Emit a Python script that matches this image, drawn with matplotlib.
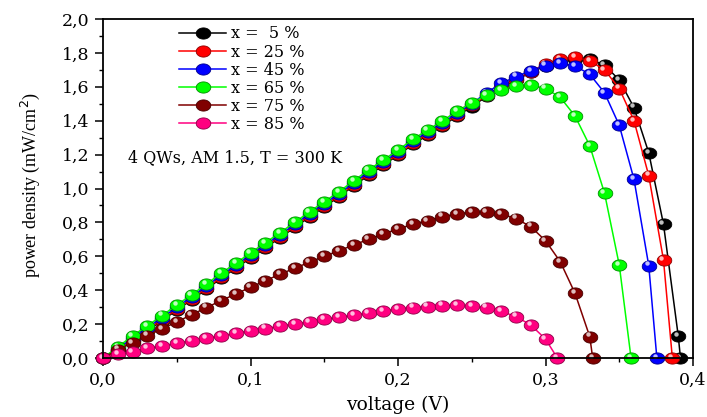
import matplotlib
matplotlib.use("Agg")
import matplotlib.pyplot as plt
import numpy as np
from matplotlib.path import Path
from matplotlib.ticker import MultipleLocator, FuncFormatter
from matplotlib.transforms import offset_copy
from matplotlib.colors import to_rgb

# voltage grid (V), each curve ends with its own open-circuit point
v_grid = [0.00, 0.01, 0.02, 0.03, 0.04, 0.05, 0.06, 0.07, 0.08, 0.09,
          0.10, 0.11, 0.12, 0.13, 0.14, 0.15, 0.16, 0.17, 0.18, 0.19,
          0.20, 0.21, 0.22, 0.23, 0.24, 0.25, 0.26, 0.27, 0.28, 0.29,
          0.30, 0.31, 0.32, 0.33, 0.34, 0.35, 0.36, 0.37, 0.38, 0.39]

labels = ["x =  5 %", "x = 25 %", "x = 45 %", "x = 65 %", "x = 75 %", "x = 85 %"]
colors = ["#000000", "#ff0000", "#0000ff", "#00ff00", "#800000", "#ff0080"]

voc = [0.3915, 0.386, 0.3755, 0.358, 0.332, 0.308]

p_5 = [0, 0.042, 0.10, 0.16, 0.22, 0.283, 0.343, 0.405, 0.47, 0.53,
       0.59, 0.65, 0.71, 0.77, 0.833, 0.892, 0.952, 1.016, 1.078, 1.138,
       1.197, 1.26, 1.315, 1.368, 1.428, 1.483, 1.543, 1.595, 1.64, 1.685,
       1.725, 1.752, 1.765, 1.762, 1.729, 1.64, 1.477, 1.211, 0.789, 0.13, 0.0]
p_25 = [0, 0.045, 0.106, 0.166, 0.226, 0.289, 0.348, 0.411, 0.476, 0.535,
        0.596, 0.656, 0.715, 0.776, 0.839, 0.898, 0.957, 1.022, 1.085, 1.144,
        1.203, 1.266, 1.321, 1.374, 1.435, 1.49, 1.55, 1.60, 1.645, 1.69,
        1.735, 1.765, 1.774, 1.754, 1.70, 1.59, 1.40, 1.076, 0.578, 0.0]
p_45 = [0, 0.055, 0.118, 0.178, 0.238, 0.30, 0.36, 0.423, 0.488, 0.547,
        0.608, 0.668, 0.727, 0.788, 0.851, 0.91, 0.969, 1.034, 1.097, 1.156,
        1.215, 1.278, 1.333, 1.386, 1.445, 1.50, 1.565, 1.62, 1.66, 1.695,
        1.725, 1.738, 1.723, 1.674, 1.565, 1.373, 1.054, 0.545, 0.0]
p_65 = [0, 0.065, 0.13, 0.19, 0.25, 0.313, 0.372, 0.435, 0.50, 0.559,
        0.62, 0.68, 0.739, 0.80, 0.863, 0.922, 0.981, 1.046, 1.109, 1.168,
        1.227, 1.29, 1.345, 1.398, 1.457, 1.506, 1.55, 1.58, 1.605, 1.61,
        1.59, 1.538, 1.428, 1.252, 0.973, 0.549, 0.0]
p_75 = [0, 0.05, 0.09, 0.132, 0.172, 0.213, 0.255, 0.297, 0.338, 0.378,
        0.417, 0.456, 0.494, 0.53, 0.565, 0.60, 0.633, 0.667, 0.70, 0.732,
        0.761, 0.789, 0.81, 0.834, 0.85, 0.86, 0.861, 0.85, 0.822, 0.775,
        0.692, 0.568, 0.382, 0.126, 0.0]
p_85 = [0, 0.022, 0.037, 0.057, 0.071, 0.087, 0.102, 0.116, 0.13, 0.146,
        0.161, 0.173, 0.189, 0.20, 0.214, 0.228, 0.24, 0.252, 0.266, 0.279,
        0.289, 0.297, 0.303, 0.309, 0.311, 0.307, 0.297, 0.275, 0.244, 0.195,
        0.112, 0.0]

powers = [p_5, p_25, p_45, p_65, p_75, p_85]

# slightly flattened ball marker (the original is stretched sideways)
t = np.linspace(0, 2 * np.pi, 41)
ball = Path(np.column_stack([1.3 * np.cos(t), np.sin(t)]), closed=True)

fig = plt.figure(figsize=(7.07, 4.17), dpi=100)
ax = fig.add_axes([0.1457, 0.1415, 0.8345, 0.8129])
shine = offset_copy(ax.transData, fig=fig, x=-2.2, y=2.2, units="dots")

for p, vc, col, lab in zip(powers, voc, colors, labels):
    v = v_grid[:len(p) - 1] + [vc]
    edge = tuple(c * 0.55 for c in to_rgb(col))
    ax.plot(v, p, "-", color=col, lw=1.1, marker=ball, ms=10.5,
            mfc=col, mec=edge, mew=0.6, label=lab, clip_on=False)
    ax.plot(v, p, ls="none", marker="o", ms=3.2, mfc="white", mec="none",
            alpha=0.75, transform=shine, clip_on=False)

ax.set_xlim(0, 0.4)
ax.set_ylim(0, 2.0)
ax.xaxis.set_major_locator(MultipleLocator(0.1))
ax.xaxis.set_minor_locator(MultipleLocator(0.05))
ax.yaxis.set_major_locator(MultipleLocator(0.2))
ax.yaxis.set_minor_locator(MultipleLocator(0.1))
comma = FuncFormatter(lambda val, pos: "{:.1f}".format(val).replace(".", ","))
ax.xaxis.set_major_formatter(comma)
ax.yaxis.set_major_formatter(comma)
ax.tick_params(which="major", direction="out", length=6, width=1.1, pad=4,
               labelsize=12.5, top=False, right=False)
ax.tick_params(which="minor", direction="out", length=3, width=1.0,
               top=False, right=False)
for lbl in ax.get_xticklabels() + ax.get_yticklabels():
    lbl.set_family("DejaVu Serif")
for sp in ax.spines.values():
    sp.set_linewidth(1.3)

ax.set_xlabel("voltage (V)", family="DejaVu Serif", fontsize=13.5)
ax.xaxis.set_label_coords(0.5, -0.11)
plt.rcParams["mathtext.fontset"] = "stix"
ax.set_ylabel("power density (mW/cm$^2$)", family="Liberation Serif", fontsize=13)
ax.yaxis.set_label_coords(-0.103, 0.51)

ax.text(0.0169, 1.18, "4 QWs, AM 1.5, T = 300 K", family="DejaVu Serif",
        fontsize=11.5, ha="left", va="center")

ax.legend(loc="upper left", bbox_to_anchor=(0.1288, 0.981), frameon=False,
          prop={"family": "DejaVu Serif", "size": 11.5}, numpoints=1,
          handlelength=2.95, handletextpad=0.3, labelspacing=0.07,
          borderpad=0, borderaxespad=0)

fig.savefig("out.png", dpi=100)
